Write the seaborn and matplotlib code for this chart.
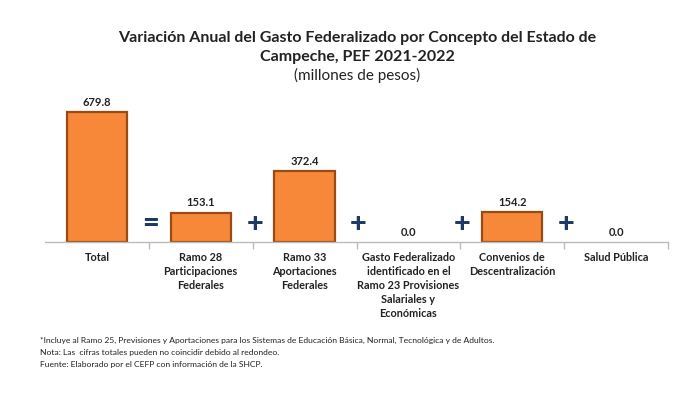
import numpy as np
import pandas as pd
import matplotlib.pyplot as plt
import seaborn as sns

# Data
categorias = ["Total", "Ramo 28\nParticipaciones\nFederales", "Ramo 33\nAportaciones\nFederales",
              "Gasto Federalizado\nidentificado en el\nRamo 23 Provisiones\nSalariales y\nEconómicas",
              "Convenios de\nDescentralización", "Salud Pública"]
valores = [679.8, 153.1, 372.4, 0.0, 154.2, 0.0]
operadores = ["=", "+", "+", "+", "+"]

titulo = "Variación Anual del Gasto Federalizado por Concepto del Estado de\nCampeche, PEF 2021-2022"
subtitulo = "(millones de pesos)"
notas = ["*Incluye al Ramo 25, Previsiones y Aportaciones para los Sistemas de Educación Básica, Normal, Tecnológica y de Adultos.",
         "Nota: Las  cifras totales pueden no coincidir debido al redondeo.",
         "Fuente: Elaborado por el CEFP con información de la SHCP."]

df = pd.DataFrame({"concepto": categorias, "monto": valores})

sns.set_theme(style="white")
plt.rcParams['font.family'] = ['Lato', 'DejaVu Sans']

fig = plt.figure(figsize=(6.98, 3.93), dpi=100)
ax = fig.add_axes([45/698, 1-242/393, 623/698, 147/393])

sns.barplot(data=df, x="concepto", y="monto", ax=ax, color="#F7883A",
            width=0.58, edgecolor="#9A4A12", linewidth=1.6, saturation=1)
# no outline on empty bars
for p in ax.patches:
    if p.get_height() == 0:
        p.set_linewidth(0)

# value labels
for i, v in enumerate(valores):
    ax.text(i, v + 22, f"{v:.1f}", ha="center", va="bottom", fontsize=8, fontweight="bold", color="#222222")

# operator signs between bars
for i, op in enumerate(operadores):
    ax.text(i + 0.52, 95, op, ha="center", va="center", fontsize=21, fontweight="black", color="#1F3864")

ax.set_ylim(0, 768)
ax.set_xlim(-0.5, len(categorias) - 0.5)
ax.set_yticks([])
ax.set_xlabel("")
ax.set_ylabel("")
for s in ["top", "right", "left"]:
    ax.spines[s].set_visible(False)
ax.spines["bottom"].set_color("#BBBBBB")
ax.spines["bottom"].set_linewidth(1)

# category labels at centers, tick marks at boundaries
ax.set_xticks(np.arange(len(categorias)))
ax.set_xticklabels(categorias, fontsize=7.8, fontweight="bold", color="#222222", linespacing=1.35, va="top")
ax.tick_params(axis="x", length=0, pad=7)
ax.set_xticks(np.arange(len(categorias)) + 0.5, minor=True)
ax.tick_params(axis="x", which="minor", length=5, color="#BBBBBB", width=1, bottom=True)

fig.text(0.512, 0.878, titulo, ha="center", va="center", fontsize=11.5, fontweight="bold",
         color="#222222", linespacing=1.45)
fig.text(0.512, 0.808, subtitulo, ha="center", va="center", fontsize=11, color="#222222")

for k, n in enumerate(notas):
    fig.text(0.057, 1 - (340 + 12 * k) / 393, n, ha="left", va="center", fontsize=6.1, color="#222222")

fig.savefig("out.png", dpi=100)
